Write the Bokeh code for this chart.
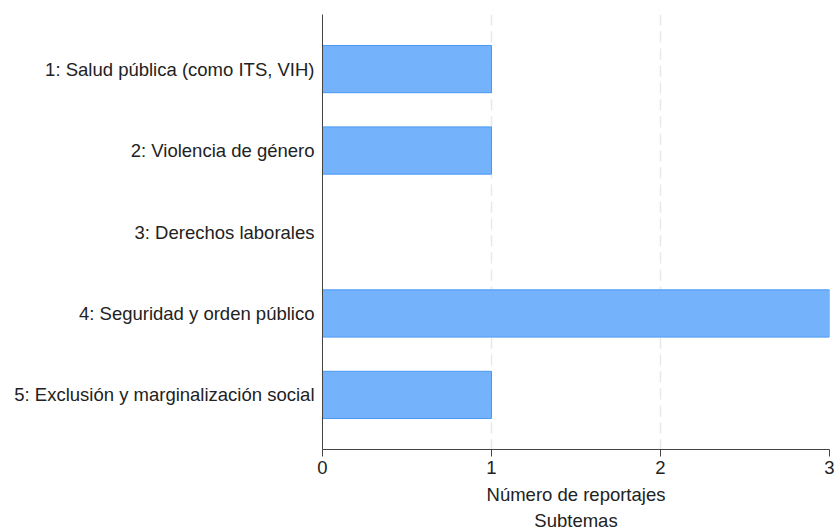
from bokeh.plotting import figure
from bokeh.models import Range1d, FixedTicker, Title
from bokeh.embed import file_html
from bokeh.resources import INLINE

categories = [
    "1: Salud pública (como ITS, VIH)",
    "2: Violencia de género",
    "3: Derechos laborales",
    "4: Seguridad y orden público",
    "5: Exclusión y marginalización social",
]
values = [1, 1, 0, 3, 1]
x_ticks = [0, 1, 2, 3]

FONT = "Liberation Sans"
ypos = list(range(1, len(categories) + 1))

p = figure(width=837, height=530, output_backend="svg", toolbar_location=None,
           x_range=Range1d(0, 3), y_range=Range1d(len(categories) + 0.67, 0.33),
           min_border_left=322, min_border_right=8, min_border_top=14, min_border_bottom=10)
p.outline_line_color = None

p.hbar(y=ypos, left=0, right=values, height=0.58,
       fill_color="#74b3fb", line_color="#4a98f3", line_width=1)

p.ygrid.visible = False
p.xgrid.ticker = FixedTicker(ticks=x_ticks[1:])
p.xgrid.grid_line_color = "#e8e8e8"
p.xgrid.grid_line_width = 1.5
p.xgrid.grid_line_dash = "11 6"

p.xaxis.ticker = FixedTicker(ticks=x_ticks)
p.xaxis.axis_label = "Número de reportajes"
p.xaxis.axis_label_text_font = FONT
p.xaxis.axis_label_text_font_style = "normal"
p.xaxis.axis_label_text_font_size = "18.5px"
p.xaxis.axis_label_text_color = "#222222"
p.xaxis.axis_label_standoff = 7
p.xaxis.major_label_text_font = FONT
p.xaxis.major_label_text_font_size = "18.5px"
p.xaxis.major_label_text_color = "#222222"
p.xaxis.major_label_standoff = 4
p.xaxis.major_tick_out = 7
p.xaxis.major_tick_in = 0
p.xaxis.minor_tick_out = 0
p.xaxis.minor_tick_in = 0
p.xaxis.axis_line_color = "#444444"
p.xaxis.major_tick_line_color = "#444444"

p.yaxis.ticker = FixedTicker(ticks=ypos)
p.yaxis.major_label_overrides = {y: c for y, c in zip(ypos, categories)}
p.yaxis.major_label_text_font = FONT
p.yaxis.major_label_text_font_size = "18.5px"
p.yaxis.major_label_text_color = "#222222"
p.yaxis.major_label_standoff = 8
p.yaxis.major_tick_out = 0
p.yaxis.major_tick_in = 0
p.yaxis.minor_tick_out = 0
p.yaxis.minor_tick_in = 0
p.yaxis.axis_line_color = "#444444"

p.add_layout(Title(text="Subtemas", align="center", text_font=FONT,
                   text_font_size="18.5px", text_font_style="normal",
                   text_color="#222222", standoff=0), "below")

open("out.html", "w").write(file_html(p, INLINE))
